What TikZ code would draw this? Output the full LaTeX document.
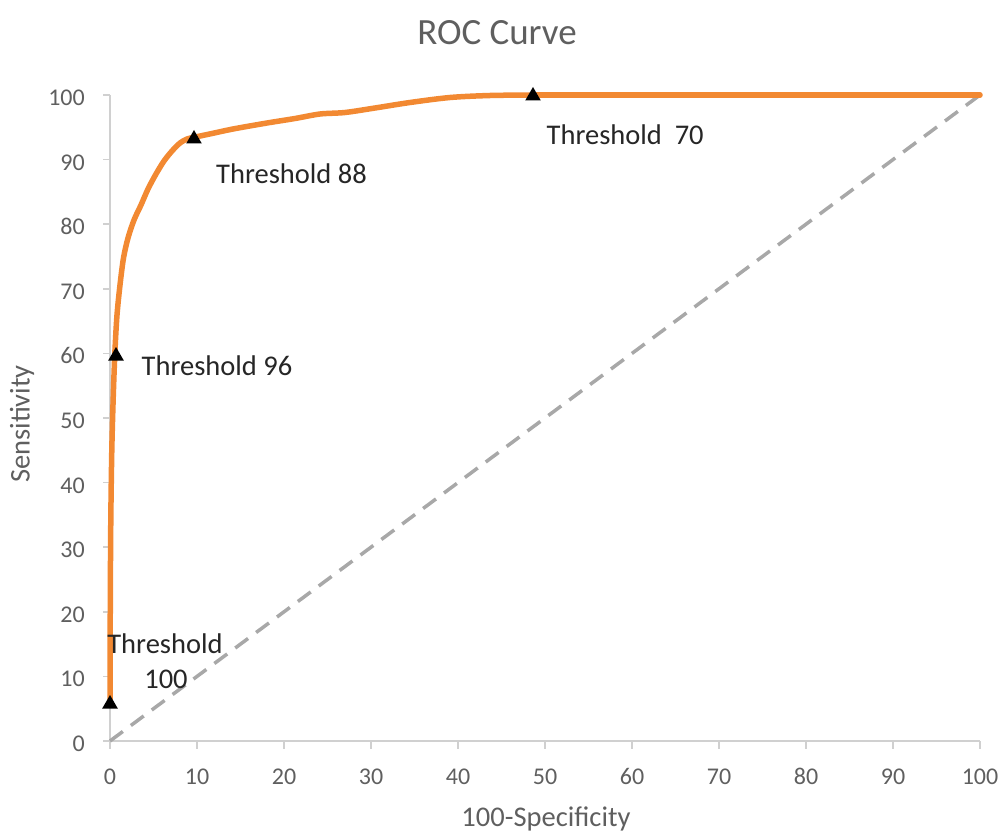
\documentclass[tikz,border=0pt]{standalone}
\usepackage{fontspec}
\setmainfont{Carlito}
\usetikzlibrary{shapes.geometric}
\definecolor{axisgray}{RGB}{208,208,208}
\definecolor{txtgray}{RGB}{95,95,95}
\definecolor{diaggray}{RGB}{168,168,168}
\definecolor{roc}{RGB}{242,137,50}
\tikzset{
  axisline/.style={draw=axisgray, line width=1.6pt},
  ticklbl/.style={inner sep=0pt, text=txtgray, font=\fontsize{24}{24}\selectfont},
  thrlbl/.style={inner sep=0pt, text=black!85, font=\fontsize{28.5}{28.5}\selectfont},
  axlbl/.style={inner sep=0pt, text=txtgray, font=\fontsize{28.5}{28.5}\selectfont},
  marker/.style={regular polygon, regular polygon sides=3, fill=black, inner sep=0pt, minimum size=18pt},
  diag/.style={draw=diaggray, line width=3.5pt, dash pattern=on 16pt off 10pt},
  curve/.style={draw=roc, line width=5.5pt, line cap=round, line join=round}
}
\begin{document}
\begin{tikzpicture}[x=1pt,y=-1pt]
\useasboundingbox (0,0) rectangle (1001,832);
% title
\node[inner sep=0pt, anchor=base, text=txtgray, font=\fontsize{37}{37}\selectfont] (title) at (497,45) {ROC Curve};
% axes
\coordinate (O) at (110,741);
\coordinate (ytop) at (110,95);
\coordinate (xend) at (980,741);
\draw[axisline] (ytop) -- (O) -- (xend);
\foreach \k in {0,...,10}{
  \pgfmathsetmacro{\py}{741-64.6*\k}
  \pgfmathsetmacro{\px}{110+87*\k}
  \pgfmathtruncatemacro{\lab}{10*\k}
  \coordinate (yt\k) at (110,\py);
  \coordinate (xt\k) at (\px,741);
  \draw[axisline] (yt\k) -- ++(-7,0);
  \draw[axisline] (xt\k) -- ++(0,8);
  \node[ticklbl, anchor=base east] (ylab\k) at (85,\py+10.5) {\lab};
  \node[ticklbl, anchor=base] (xlab\k) at (\px,784) {\lab};
}
% axis titles
\node[axlbl, rotate=90] (ylabel) at (22,424) {Sensitivity};
\node[axlbl, anchor=base] (xlabel) at (546,826) {100-Specificity};
% diagonal
\coordinate (dtop) at (980,95);
\draw[diag] (O) -- (dtop);
% ROC curve
\draw[curve] plot[smooth, tension=0.5] coordinates {
 (110,703) (110.3,600) (110.8,520) (111.8,450) (113.3,395) (115,350) (117,315)
 (120,285) (123.5,258) (128,238) (134,220) (141,205) (148,189) (156,174)
 (164,161) (172,151) (180,143) (187,139) (194,137.3) (212,133.5) (233,129)
 (267,123) (295,118.5) (320,114) (345,112.5) (375,108) (410,102.5) (450,97.5)
 (490,95.5) (533,95) };
\draw[curve] (533,95) -- (980,95);
% markers
\node[marker] (m100) at (110,704) {};
\node[marker] (m96) at (116,356) {};
\node[marker] (m88) at (194,139) {};
\node[marker] (m70) at (533,96) {};
% threshold labels
\node[thrlbl, anchor=base] (t100a) at (165,653) {Threshold};
\node[thrlbl, anchor=base] (t100b) at (166,688) {100};
\node[thrlbl, anchor=base west] (t96) at (141.5,375) {Threshold 96};
\node[thrlbl, anchor=base west] (t88) at (216,183.5) {Threshold 88};
\node[thrlbl, anchor=base west] (t70) at (546.5,145) {Threshold\ \ 70};
\end{tikzpicture}
\end{document}
